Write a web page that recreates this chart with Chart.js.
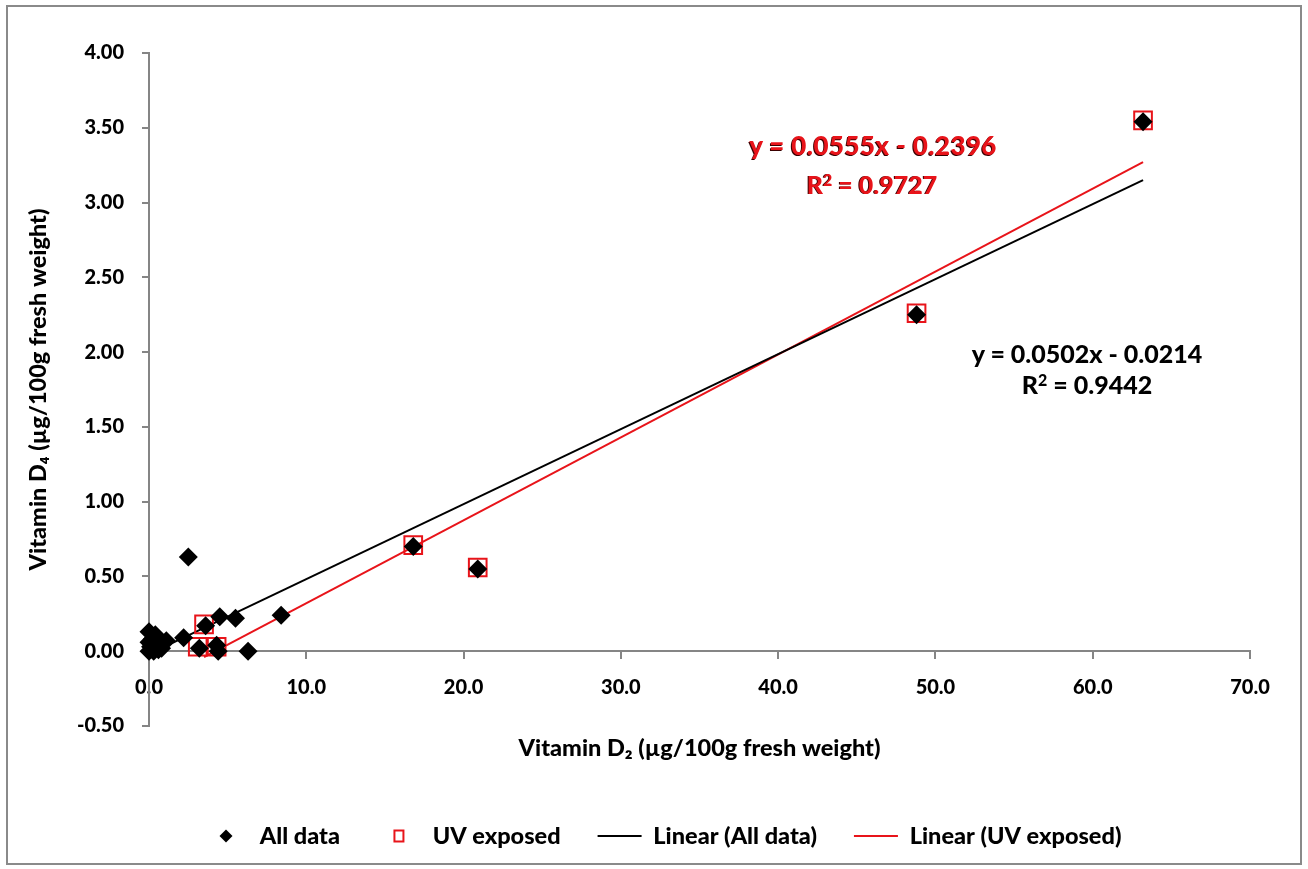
<!DOCTYPE html>
<html>
<head>
<meta charset="utf-8">
<script src="https://cdn.jsdelivr.net/npm/chart.js@4/dist/chart.umd.min.js"></script>
<style>
  html, body { margin: 0; padding: 0; background: #fff; }
  #wrap { position: relative; width: 1308px; height: 869px; overflow: hidden; }
  #frame { position: absolute; left: 6px; top: 5px; width: 1296px; height: 860px; border: 2px solid #8a8a8a; box-sizing: border-box; pointer-events: none; }
  canvas { position: absolute; left: 0; top: 0; }
  .eq { position: absolute; transform: translate(-50%, -50%); font-family: Lato, "Open Sans", sans-serif; font-weight: 900; font-size: 25px; white-space: nowrap; line-height: 1; }
  .eq sup { font-size: 16px; vertical-align: 8px; line-height: 0; }
  .blk { color: #000; }
  .red { color: #e8141a; text-shadow: -1px 0.5px 0 #3a0000; }
</style>
</head>
<body>
<div id="wrap">
  <canvas id="c" width="1308" height="869"></canvas>
  <div id="frame"></div>
  <div class="eq red" style="left:873px; top:145px; font-size:26px; letter-spacing:0.4px;">y = 0.0555x - 0.2396</div>
  <div class="eq red" style="left:872px; top:184px;">R<sup>2</sup> = 0.9727</div>
  <div class="eq blk" style="left:1087px; top:353px;">y = 0.0502x - 0.0214</div>
  <div class="eq blk" style="left:1087px; top:384px;">R<sup>2</sup> = 0.9442</div>
</div>
<script>
// ---- Data ----
const allDataX = [63.2, 48.8, 20.9, 16.8, 8.4, 2.5, 6.3, 5.5, 4.5, 3.6, 2.2, 1.1, 3.2, 4.3, 4.4, 0.0, 0.4, 0.2, 0.0, 0.5, 0.1, 0.6, 0.0, 0.3, 0.8];
const allDataY = [3.54, 2.25, 0.55, 0.70, 0.24, 0.63, 0.00, 0.22, 0.23, 0.17, 0.09, 0.07, 0.02, 0.04, 0.00, 0.13, 0.11, 0.08, 0.06, 0.05, 0.03, 0.01, 0.00, 0.00, 0.02];
const uvX = [63.2, 48.8, 20.9, 16.8, 3.5, 3.1, 4.3];
const uvY = [3.55, 2.26, 0.56, 0.71, 0.18, 0.03, 0.03];
const trendAllX = [0.0, 63.2];
const trendAllY = [-0.02, 3.15];
const trendUvX = [3.5, 63.2];
const trendUvY = [-0.04, 3.27];
const legendLabels = ['All data', 'UV exposed', 'Linear (All data)', 'Linear (UV exposed)'];
const xTicks = [0, 10, 20, 30, 40, 50, 60, 70];
const yTicks = [-0.5, 0, 0.5, 1, 1.5, 2, 2.5, 3, 3.5, 4];

const pts = (xs, ys) => xs.map((x, i) => ({x: x, y: ys[i]}));
const FONT = 'Lato, "Open Sans", sans-serif';
const W8 = '900';
const AXIS = '#858585';
const RED = '#e8141a';

// small legend markers
function diamondImg() {
  const c = document.createElement('canvas'); c.width = 14; c.height = 14;
  const g = c.getContext('2d'); g.fillStyle = '#000';
  g.beginPath(); g.moveTo(7, 0.5); g.lineTo(13.5, 7); g.lineTo(7, 13.5); g.lineTo(0.5, 7); g.closePath(); g.fill();
  return c;
}
function squareImg() {
  const c = document.createElement('canvas'); c.width = 13; c.height = 15;
  const g = c.getContext('2d'); g.strokeStyle = RED; g.lineWidth = 2;
  g.strokeRect(2, 2, 9, 11);
  return c;
}
const legendStyles = [diamondImg(), squareImg(), 'line', 'line'];
const legendColors = ['#000', RED, '#000', RED];
const LEGEND_START = 204; // left edge of first legend item

const legendShift = {
  id: 'legendShift',
  afterLayout(chart) {
    const lg = chart.legend;
    if (!lg || !lg.lineWidths) return;
    const pad = lg.options.labels.padding;
    const cur = (lg.left + pad + lg.right - lg.lineWidths[0]) / 2;
    const s = LEGEND_START - cur;
    lg.left += s; lg.right += s;
  }
};

new Chart(document.getElementById('c'), {
  type: 'scatter',
  data: {
    datasets: [
      { label: legendLabels[0], data: pts(allDataX, allDataY), pointStyle: 'rectRot', pointRadius: 9.5, pointBackgroundColor: '#000', pointBorderColor: '#000', pointBorderWidth: 0, clip: false },
      { label: legendLabels[1], data: pts(uvX, uvY), pointStyle: 'rect', pointRadius: 12.5, pointBackgroundColor: 'rgba(0,0,0,0)', pointBorderColor: RED, pointBorderWidth: 2, clip: false },
      { label: legendLabels[2], data: pts(trendAllX, trendAllY), showLine: true, pointRadius: 0, borderColor: '#000', borderWidth: 2, clip: false },
      { label: legendLabels[3], data: pts(trendUvX, trendUvY), showLine: true, pointRadius: 0, borderColor: RED, borderWidth: 2, clip: false }
    ]
  },
  plugins: [legendShift],
  options: {
    responsive: false,
    animation: false,
    layout: { padding: { left: 0, right: 58, top: 53, bottom: 11.25 } },
    plugins: {
      tooltip: { enabled: false },
      legend: {
        position: 'bottom',
        labels: {
          usePointStyle: true,
          pointStyleWidth: 44,
          padding: 37,
          color: '#000',
          font: { family: FONT, size: 23.5, weight: W8 },
          generateLabels: () => legendLabels.map((t, i) => ({
            text: t, datasetIndex: i, hidden: false,
            pointStyle: legendStyles[i], fillStyle: legendColors[i], strokeStyle: legendColors[i],
            lineWidth: 2, fontColor: '#000'
          }))
        }
      }
    },
    scales: {
      x: {
        type: 'linear',
        position: { y: 0 },
        min: 0, max: 70,
        afterBuildTicks: (s) => { s.ticks = xTicks.map(v => ({value: v})); },
        ticks: { callback: (v) => Number(v).toFixed(1), color: '#000', font: { family: FONT, size: 20, weight: W8 }, padding: 17, maxRotation: 0 },
        grid: { display: true, drawOnChartArea: false, drawTicks: true, tickLength: 7, color: AXIS, lineWidth: 2 },
        border: { display: true, color: AXIS, width: 2 },
        title: { display: false }
      },
      x2: {
        type: 'linear',
        position: 'bottom',
        ticks: { display: false },
        grid: { display: false, drawTicks: false },
        border: { display: false },
        title: { display: true, text: 'Vitamin D\u2082 (\u00b5g/100g fresh weight)', color: '#000', font: { family: FONT, size: 23.5, weight: W8 }, padding: { top: 7.9, bottom: 25.15 } }
      },
      y: {
        type: 'linear',
        position: 'left',
        min: -0.5, max: 4,
        afterBuildTicks: (s) => { s.ticks = yTicks.map(v => ({value: v})); },
        afterFit: (s) => { s.width = 149; },
        ticks: { callback: (v) => Number(v).toFixed(2), color: '#000', font: { family: FONT, size: 20, weight: W8 }, padding: 18 },
        grid: { display: true, drawOnChartArea: false, drawTicks: true, tickLength: 7, color: AXIS, lineWidth: 2 },
        border: { display: true, color: AXIS, width: 2 },
        title: { display: true, text: 'Vitamin D\u2084 (\u00b5g/100g fresh weight)', color: '#000', font: { family: FONT, size: 23.5, weight: W8 }, padding: { top: 24, bottom: 0 } }
      }
    }
  }
});
</script>
</body>
</html>
